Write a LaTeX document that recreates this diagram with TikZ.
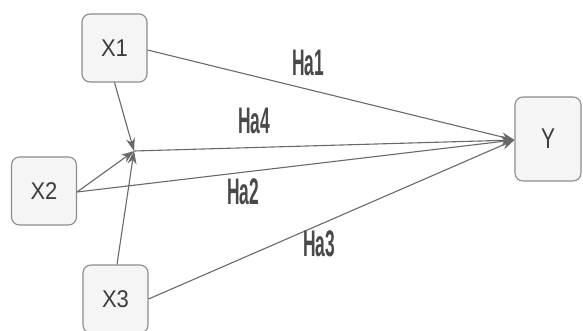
\documentclass[tikz,border=0pt]{standalone}
\usepackage{fontspec}
\setmainfont{Liberation Sans}
\usetikzlibrary{arrows.meta}
\definecolor{boxline}{RGB}{140,140,140}
\definecolor{boxfill}{RGB}{245,245,245}
\definecolor{edgecol}{RGB}{105,105,105}
\definecolor{txt}{RGB}{60,60,60}
\tikzset{
  varbox/.style={draw=boxline, line width=1.1pt, rounded corners=8pt,
    fill=boxfill, minimum width=65pt, minimum height=68pt, inner sep=0pt,
    text=txt, font=\fontsize{22}{26}\selectfont},
  link/.style={draw=edgecol, line width=1.1pt,
    -{Stealth[length=13pt,width=9pt]}},
  hyp/.style={text=txt!80!gray, inner sep=0pt,
    font=\fontsize{37}{42}\selectfont}
}
\newcommand{\hlabel}[1]{\scalebox{0.47}[1]{#1}}
\begin{document}
\begin{tikzpicture}[x=1pt,y=-1pt]
  \useasboundingbox (0,0) rectangle (583,331);
  \fill[white] (0,0) rectangle (583,331);
  \begin{scope}
    \clip (0,0) rectangle (583,331);
    % variable boxes
    \node[varbox] (X1) at (114.5,48) {\scalebox{1}[1.1]{X1}};
    \node[varbox] (X2) at (44,191) {\scalebox{1}[1.1]{X2}};
    \node[varbox] (X3) at (115.5,299) {\scalebox{1}[1.1]{X3}};
    \node[varbox, minimum width=66pt, minimum height=84pt] (Y) at (548,139)
      {\scalebox{0.95}[1.3]{Y}};
  \end{scope}
  % attachment points on the boxes
  \coordinate (J)   at (134,151);
  \coordinate (X1r) at ([yshift=-2pt]X1.east);
  \coordinate (X2r) at ([yshift=-1pt]X2.east);
  \coordinate (X3t) at ([xshift=1.5pt]X3.north);
  \coordinate (Yl)  at ([yshift=-1pt]Y.west);
  % moderating paths into the junction
  \draw[link] (X1.south) -- (J);
  \draw[link] (X2r) -- (J);
  \draw[link] (X3t) -- (J);
  % direct paths into Y
  \draw[link] (X1r) -- (Yl);
  \draw[link] (X2r) -- (Yl);
  \draw[link] (X3.east) -- (Yl);
  \draw[link] (J) -- (Yl);
  % hypothesis labels
  \node[hyp] (H1) at (308,63)  {\hlabel{\textbf{Ha1}}};
  \node[hyp] (H4) at (254,121) {\hlabel{\textbf{Ha4}}};
  \node[hyp] (H2) at (243,192) {\hlabel{\textbf{Ha2}}};
  \node[hyp] (H3) at (319,244) {\hlabel{\textbf{Ha3}}};
\end{tikzpicture}
\end{document}
